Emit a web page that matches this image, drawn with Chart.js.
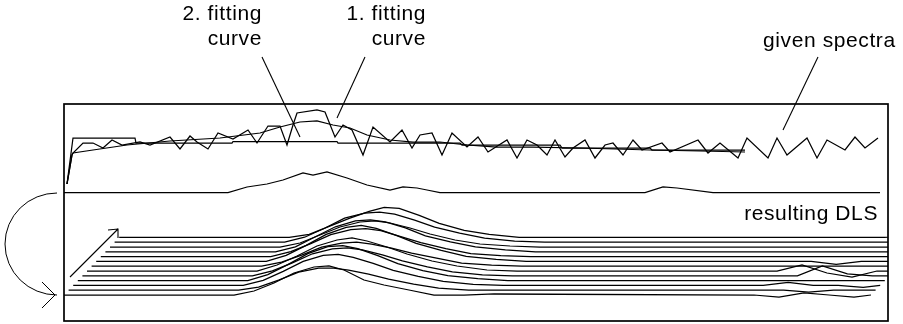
<!DOCTYPE html>
<html>
<head>
<meta charset="utf-8">
<script src="https://cdn.jsdelivr.net/npm/chart.js@4.4.0/dist/chart.umd.min.js"></script>
<style>
  html, body { margin: 0; padding: 0; background: #fff; }
</style>
</head>
<body>
<canvas id="myChart" width="903" height="324"></canvas>
<script>
// given spectrum (channel, intensity)
const spectrumX = [3,8,9,19,29,39,48,58,76,86,106,116,126,133,144,154,169,184,193,204,216,223,229,233,253,261,271,279,288,299,309,326,338,348,356,368,378,388,403,414,424,443,453,463,473,483,491,501,509,521,531,541,549,559,569,578,598,606,634,644,656,674,683,704,713,723,743,753,763,781,791,801,814];
const spectrumY = [137,166,168,178,178,173,181,176,179,176,184,172,185,179,172,188,182,191,178,195,195,176,196,208,211,209,184,196,191,166,194,179,191,173,186,188,166,188,174,184,169,181,163,181,176,166,181,164,173,181,163,176,178,166,181,171,178,169,181,168,178,163,183,163,183,166,183,163,181,171,184,173,183];

// 1. fitting curve (smooth)
const fit1X = [3,8,9,29,63,106,156,196,216,236,253,269,286,303,326,349,376,403,433,469,516,586,636,681];
const fit1Y = [137,166,168,171,176,180,183,188,194,199,200,196,193,186,181,179,179,176,174,174,173,171,170,169];

// 2. fitting curve (steps)
const fit2X = [3,9,71,72,168,169,273,274,396,398,496,498,586,588,681];
const fit2Y = [137,183,183,178,178,179.5,179.5,178,178,176,176,173,173,171,171];

// resulting DLS
const dlsX = [0,164,183,203,219,239,249,263,283,303,326,339,353,363,376,581,599,613,649,816];
const dlsY = [128.5,128.5,134,137,141,148,146,149,143,136,131,134,133,131,128.5,128.5,134,133,128.5,128.5];

// stack of DLS curves (channel offset from each curve's start, height above its baseline)
const stackOffsets = [0,170,190,210,230,250,265,280,300,320,345,370,400,430,690,715,740,765,790,807];
const stackHeights = [
  [0,0,4,12,22,28,29,25,15,10,5,0,0,1,0,-2,2,0,-2,0],
  [0,0,3,10,18,22,22,20,16,11,6,2,0,0,0,0,-2,0,0,0],
  [0,0,5,14,24,30,31,28,22,15,9,4,1,0,0,3,0,0,-2,0],
  [0,0,6,16,27,34,35,32,25,17,10,5,2,0,0,0,0,0,0,0],
  [0,0,5,13,22,27,28,26,21,15,9,4,1,0,0,0,10,2,0,0],
  [0,0,6,15,25,31,33,30,24,17,10,5,1,0,0,6,-2,-6,0,0],
  [0,0,4,11,19,23,24,22,18,13,8,3,1,0,0,0,0,0,0,0],
  [0,0,6,16,27,34,36,33,26,18,11,5,2,0,0,0,-3,0,0,0],
  [0,0,5,13,22,27,28,26,20,14,8,3,1,0,0,0,0,0,0,0],
  [0,0,5,15,25,31,32,30,24,16,10,5,2,0,0,0,0,0,0,0],
  [0,0,4,12,20,25,26,24,19,13,7,3,1,0,0,0,0,0,0,0],
  [0,0,5,14,24,29,30,28,22,15,9,4,1,0,0,0,0,0,0,-4],
  [0,0,3,11,19,26,30,29,22,14,7,3,0,0,0,0,0,0,2,0]
];

// perspective of the stack
const stackBase = 26;
const stackDX = 4.6;
const stackDY = 4.8;

function pts(xs, ys) {
  return xs.map((x, i) => ({ x: x, y: ys[i] }));
}

function lineSet(data, w) {
  return {
    data: data,
    borderColor: '#000',
    borderWidth: w || 1.25,
    pointRadius: 0,
    tension: 0,
    fill: false
  };
}

var datasets = [];
datasets.push(lineSet(pts(spectrumX, spectrumY)));
datasets.push(lineSet(pts(fit1X, fit1Y)));
datasets.push(lineSet(pts(fit2X, fit2Y)));
datasets.push(lineSet(pts(dlsX, dlsY)));
stackHeights.forEach((h, i) => {
  const d = stackOffsets.map((o, k) => ({
    x: i * stackDX + o,
    y: stackBase + i * stackDY + h[k]
  }));
  datasets.push(lineSet(d));
});

// labels and arrows, in channel / intensity units
const labels = [
  { text: ['2. fitting', 'curve'], x: 198, y: 301, align: 'right' },
  { text: ['1. fitting', 'curve'], x: 362, y: 301, align: 'right' },
  { text: ['given spectra'], x: 699, y: 274, align: 'left' },
  { text: ['resulting DLS'], x: 814, y: 101, align: 'right' }
];
const leaders = [
  [198, 264, 236, 184],
  [301, 264, 273, 203],
  [754, 264, 719, 191]
];

const sketchPlugin = {
  id: 'sketch',
  afterDatasetsDraw(chart) {
    const ctx = chart.ctx;
    const a = chart.chartArea;
    const X = v => chart.scales.x.getPixelForValue(v);
    const Y = v => chart.scales.y.getPixelForValue(v);
    ctx.save();
    ctx.strokeStyle = '#000';
    ctx.lineWidth = 1.7;
    ctx.strokeRect(a.left, a.top, a.right - a.left, a.bottom - a.top);

    ctx.lineWidth = 1.1;
    leaders.forEach(l => {
      ctx.beginPath();
      ctx.moveTo(X(l[0]), Y(l[1]));
      ctx.lineTo(X(l[2]), Y(l[3]));
      ctx.stroke();
    });

    // diagonal arrow along the stack
    ctx.beginPath();
    ctx.moveTo(X(6), Y(44));
    ctx.lineTo(X(54), Y(92));
    ctx.moveTo(X(44), Y(91));
    ctx.lineTo(X(54), Y(92));
    ctx.lineTo(X(54), Y(83));
    ctx.stroke();

    // curved arrow from DLS down to the stack
    const cx = X(-7), cy = Y(77);
    const rx = X(45) - X(-7), ry = Y(77) - Y(128);
    ctx.lineWidth = 1;
    ctx.beginPath();
    ctx.ellipse(cx, cy, rx, ry, 0, -Math.PI / 2, Math.PI / 2, true);
    ctx.stroke();
    ctx.beginPath();
    ctx.moveTo(X(-22), Y(39));
    ctx.lineTo(X(-9), Y(26));
    ctx.lineTo(X(-22), Y(13));
    ctx.stroke();

    ctx.fillStyle = '#000';
    ctx.font = '21px "Liberation Sans", Arial, sans-serif';
    ctx.letterSpacing = '0.6px';
    ctx.textBaseline = 'alphabetic';
    labels.forEach(l => {
      ctx.textAlign = l.align;
      l.text.forEach((t, i) => {
        ctx.fillText(t, X(l.x), Y(l.y) + i * 25);
      });
    });
    ctx.restore();
  }
};

const config = {
  type: 'line',
  data: { datasets: datasets },
  options: {
    responsive: false,
    animation: false,
    events: [],
    layout: { padding: { left: 64, top: 104, right: 15, bottom: 3 } },
    plugins: { legend: { display: false }, tooltip: { enabled: false }, title: { display: false } },
    scales: {
      x: { type: 'linear', min: 0, max: 824, display: false },
      y: { type: 'linear', min: 0, max: 217, display: false }
    }
  },
  plugins: [sketchPlugin]
};

var myChart = new Chart(document.getElementById('myChart'), config);
</script>
</body>
</html>
